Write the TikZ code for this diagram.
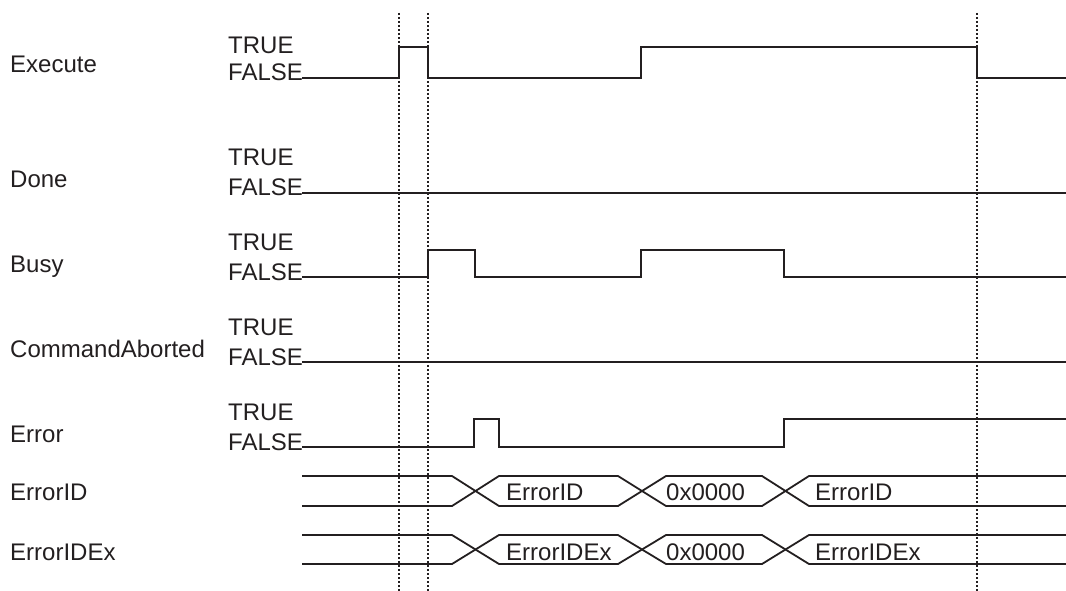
\documentclass[tikz,border=0pt]{standalone}
\usepackage{fontspec}
\setmainfont{Liberation Sans}
\definecolor{ink}{RGB}{35,31,32}
\begin{document}
\begin{tikzpicture}[x=1pt,y=-1pt,
  wave/.style={draw=ink,line width=2pt,line join=miter},
  bus/.style={draw=ink,line width=1.8pt},
  lbl/.style={anchor=base west,inner sep=0pt,text=ink,font=\fontsize{24}{27}\selectfont},
  marker/.style={draw=ink,line width=1.8pt,dash pattern=on 1.8pt off 2.2pt}]
\useasboundingbox (0,0) rectangle (1066,591);
% names and levels
\node[lbl] (nExec) at (10,73) {Execute};
\node[lbl] (tExec) at (228,54) {TRUE};
\node[lbl] (fExec) at (228,81) {FALSE};
\node[lbl] (nDone) at (10,188) {Done};
\node[lbl] (tDone) at (228,166) {TRUE};
\node[lbl] (fDone) at (228,196) {FALSE};
\node[lbl] (nBusy) at (10,272) {Busy};
\node[lbl] (tBusy) at (228,250) {TRUE};
\node[lbl] (fBusy) at (228,280) {FALSE};
\node[lbl] (nCmd) at (10,357) {CommandAborted};
\node[lbl] (tCmd) at (228,335) {TRUE};
\node[lbl] (fCmd) at (228,365) {FALSE};
\node[lbl] (nErr) at (10,442) {Error};
\node[lbl] (tErr) at (228,420) {TRUE};
\node[lbl] (fErr) at (228,450) {FALSE};
\node[lbl] (nEID) at (10,500) {ErrorID};
\node[lbl] (nEIDx) at (10,560.7) {ErrorIDEx};
% dotted time markers
\coordinate (m1t) at (399,13); \coordinate (m1b) at (399,591);
\coordinate (m2t) at (428,13); \coordinate (m2b) at (428,591);
\coordinate (m3t) at (977,13); \coordinate (m3b) at (977,591);
\draw[marker] (m1t) -- (m1b);
\draw[marker] (m2t) -- (m2b);
\draw[marker] (m3t) -- (m3b);
% waveforms
\draw[wave] (302,78) -| (399,47) -| (428,78) -| (641,47) -| (977,78) -- (1066,78);
\draw[wave] (302,193) -- (1066,193);
\draw[wave] (302,277) -| (428,250) -| (475,277) -| (641,250) -| (784,277) -- (1066,277);
\draw[wave] (302,362) -- (1066,362);
\draw[wave] (302,447) -| (474,419) -| (499,447) -| (784,419) -- (1066,419);
% buses
\foreach \T/\B in {476/506,535/564}{
  \draw[bus] (302,\T) -- (452,\T) -- (499,\B) -- (618,\B) -- (666,\T) -- (762,\T) -- (809,\B) -- (1066,\B);
  \draw[bus] (302,\B) -- (452,\B) -- (499,\T) -- (618,\T) -- (666,\B) -- (762,\B) -- (809,\T) -- (1066,\T);
}
\node[lbl] (v1) at (506,500) {ErrorID};
\node[lbl] (v2) at (666,500) {0x0000};
\node[lbl] (v3) at (815,500) {ErrorID};
\node[lbl] (w1) at (506,560.7) {ErrorIDEx};
\node[lbl] (w2) at (666,560.7) {0x0000};
\node[lbl] (w3) at (815,560.7) {ErrorIDEx};
\end{tikzpicture}
\end{document}
